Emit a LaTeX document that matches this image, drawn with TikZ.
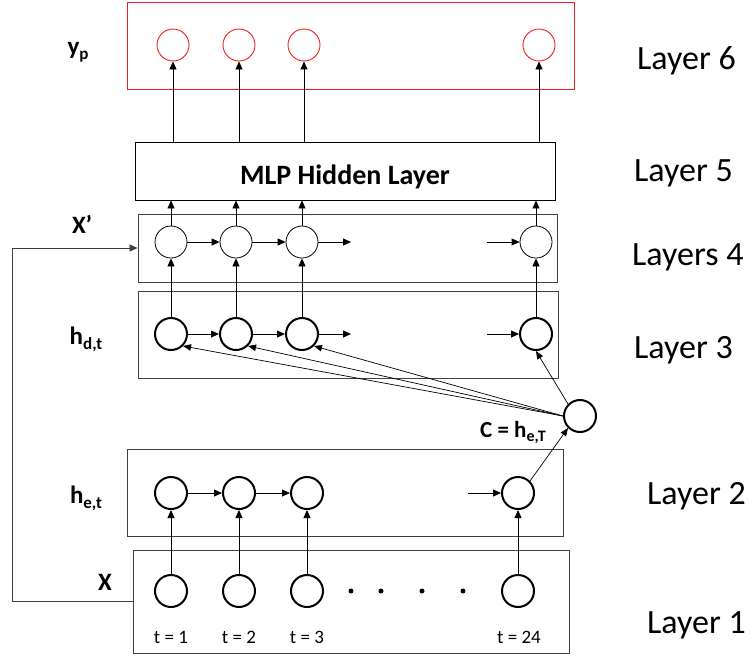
\documentclass[tikz,border=0pt]{standalone}
\usepackage{fontspec}
\setmainfont{Carlito}
\usetikzlibrary{arrows.meta}
\definecolor{boxgray}{RGB}{64,64,64}
\definecolor{myred}{RGB}{240,30,30}
\tikzset{
  box/.style={draw=boxgray, line width=0.9pt, rectangle, inner sep=0pt},
  thincirc/.style={circle, draw, line width=0.8pt, minimum size=32pt, inner sep=0pt},
  thickcirc/.style={circle, draw, line width=2pt, minimum size=32pt, inner sep=0pt},
  redcirc/.style={circle, draw=myred, line width=0.9pt, minimum size=32pt, inner sep=0pt},
  arr/.style={-{Triangle[length=8pt,width=7pt]}, line width=0.8pt},
  carr/.style={-{Triangle[length=8pt,width=6.5pt]}, line width=0.7pt},
  dotnode/.style={circle, fill, minimum size=5pt, inner sep=0pt},
  lbl/.style={font=\fontsize{25}{28}\selectfont\bfseries, anchor=base, inner sep=0pt},
  layerlbl/.style={font=\fontsize{34}{40}\selectfont, anchor=base west, inner sep=0pt},
  tlbl/.style={font=\fontsize{19}{22}\selectfont, anchor=base, inner sep=0pt},
}
\newcommand{\subtxt}[2][17]{\raisebox{-0.2em}{\fontsize{#1}{#1}\selectfont #2}}
\begin{document}
\begin{tikzpicture}[x=1pt,y=-1pt]
\useasboundingbox (0,0) rectangle (754,656);
% ---- boxes
\node[box, draw=myred, minimum width=447pt, minimum height=87pt] (L6) at (350.5,45.5) {};
\node[box, draw=black, minimum width=420pt, minimum height=58pt] (mlp) at (345,171) {};
\node[font=\fontsize{28}{32}\selectfont\bfseries, anchor=base, inner sep=0pt] (mlptxt) at (345,184) {MLP Hidden Layer};
\node[box, minimum width=419pt, minimum height=68pt] (L4) at (347.5,248) {};
\node[box, minimum width=420pt, minimum height=87pt] (L3) at (348,334.5) {};
\node[box, minimum width=436pt, minimum height=87pt] (L2) at (345,492.5) {};
\node[box, minimum width=436pt, minimum height=103pt] (L1) at (351,601.5) {};
% ---- layer 6 (outputs)
\node[redcirc] (r1) at (173,45) {};
\node[redcirc] (r2) at (239,45) {};
\node[redcirc] (r3) at (304,45) {};
\node[redcirc] (r4) at (539,45) {};
% ---- layer 4
\node[thincirc] (a1) at (171,242) {};
\node[thincirc] (a2) at (236,242) {};
\node[thincirc] (a3) at (302,242) {};
\node[thincirc] (a4) at (536,242) {};
% ---- layer 3
\node[thickcirc] (d1) at (171,334) {};
\node[thickcirc] (d2) at (236,334) {};
\node[thickcirc] (d3) at (302,334) {};
\node[thickcirc] (d4) at (536,334) {};
% ---- context
\node[thickcirc] (C) at (580,416) {};
% ---- layer 2
\node[thickcirc] (e1) at (171,493) {};
\node[thickcirc] (e2) at (239,493) {};
\node[thickcirc] (e3) at (307,493) {};
\node[thickcirc] (e4) at (518,493) {};
% ---- layer 1
\node[thickcirc] (x1) at (171,591) {};
\node[thickcirc] (x2) at (239,591) {};
\node[thickcirc] (x3) at (307,591) {};
\node[thickcirc] (x4) at (518,591) {};
\node[dotnode] (p1) at (351,591) {};
\node[dotnode] (p2) at (381,591) {};
\node[dotnode] (p3) at (422,591) {};
\node[dotnode] (p4) at (463,591) {};
% ---- free ends
\coordinate (a3out) at (351,242);
\coordinate (a4in) at (487,242);
\coordinate (d3out) at (351,334);
\coordinate (d4in) at (487,334);
\coordinate (e4in) at (468,493);
\coordinate (fb1) at (12,601.5);
\coordinate (fb2) at (12,248);
% ---- connectors
\foreach \i in {1,2,3,4}{
  \draw[arr] (r\i.south |- mlp.north) -- (r\i);
  \draw[arr] (a\i.north) -- (a\i.north |- mlp.south);
  \draw[arr] (d\i) -- (a\i);
  \draw[arr] (x\i) -- (e\i);
}
\draw[arr] (a1) -- (a2);
\draw[arr] (a2) -- (a3);
\draw[arr] (a3) -- (a3out);
\draw[arr] (a4in) -- (a4);
\draw[arr] (d1) -- (d2);
\draw[arr] (d2) -- (d3);
\draw[arr] (d3) -- (d3out);
\draw[arr] (d4in) -- (d4);
\draw[arr] (e1) -- (e2);
\draw[arr] (e2) -- (e3);
\draw[arr] (e4in) -- (e4);
\draw[carr] (C.west) -- (d1.south east);
\draw[carr] (C.west) -- (d2.south east);
\draw[carr] (C.west) -- (d3.south east);
\draw[carr] (C.north west) -- (d4.south);
\draw[carr] (e4.north east) -- (C.south west);
\draw[arr, draw=boxgray] (L1.west) -- (fb1) -- (fb2) -- (L4.west);
% ---- labels
\node[lbl] (yp) at (78,54) {y\subtxt{p}};
\node[lbl] (xprime) at (82,233) {X’};
\node[lbl] (hd) at (86,344) {h\subtxt{d,t}};
\node[lbl] (he) at (86,503) {h\subtxt{e,t}};
\node[lbl] (xin) at (105,590) {X};
\node[lbl, font=\fontsize{23}{26}\selectfont\bfseries] (clbl) at (513,437) {C = h\subtxt[16]{e,T}};
\node[tlbl] (t1) at (171,643) {t = 1};
\node[tlbl] (t2) at (239,643) {t = 2};
\node[tlbl] (t3) at (307,643) {t = 3};
\node[tlbl] (t24) at (519,643) {t = 24};
\node[layerlbl] (ly6) at (637,69) {Layer 6};
\node[layerlbl] (ly5) at (634,181) {Layer 5};
\node[layerlbl] (ly4) at (632,265) {Layers 4};
\node[layerlbl] (ly3) at (634,358) {Layer 3};
\node[layerlbl] (ly2) at (647,504) {Layer 2};
\node[layerlbl] (ly1) at (647,633) {Layer 1};
\end{tikzpicture}
\end{document}
